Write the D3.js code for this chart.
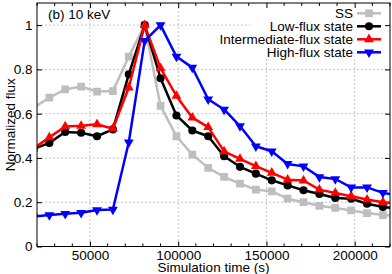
<!DOCTYPE html>
<html>
<head>
    <meta charset="utf-8">
    <title>10 keV normalized flux</title>
    <script src="https://cdn.jsdelivr.net/npm/d3@7"></script>
    <style>
        body { margin: 0; background: #fff; }
        svg { display: block; font-family: "Liberation Sans", Arial, sans-serif; }
        .grid line { stroke: #c4c4c4; stroke-width: 1; stroke-dasharray: 2 2; }
        .axis path { display: none; }
        .axis line { stroke: #000; }
        .axis text { font-size: 13.5px; fill: #000; }
        .series path.line { fill: none; stroke-width: 2.5; stroke-linejoin: round; }
    </style>
</head>
<body>
<svg width="392" height="274"></svg>
<script>

    // simulation time (s); first and last points lie just outside the plotted range
    var times = [18000, 27000, 36000, 45000, 54000, 63000, 72000, 81000, 90000, 99000, 108000, 117000,
                 126000, 135000, 144000, 153000, 162000, 171000, 180000, 189000, 198000, 207000, 216000, 225000];

    var ssFlux = [0.627, 0.672, 0.710, 0.722, 0.700, 0.702, 0.858, 1.000, 0.635, 0.498, 0.415, 0.355,
                  0.314, 0.284, 0.257, 0.249, 0.216, 0.200, 0.184, 0.174, 0.163, 0.151, 0.142, 0.138];

    var lowFlux = [0.440, 0.468, 0.517, 0.514, 0.498, 0.529, 0.778, 1.000, 0.760, 0.592, 0.524, 0.498,
                   0.408, 0.360, 0.329, 0.299, 0.276, 0.254, 0.237, 0.219, 0.216, 0.193, 0.178, 0.172];

    var intermediateFlux = [0.442, 0.493, 0.542, 0.545, 0.552, 0.532, 0.718, 1.000, 0.806, 0.680, 0.582, 0.539,
                            0.430, 0.396, 0.363, 0.333, 0.302, 0.298, 0.257, 0.242, 0.227, 0.212, 0.200, 0.195];

    var highFlux = [0.135, 0.142, 0.148, 0.152, 0.165, 0.167, 0.471, 0.929, 1.000, 0.858, 0.808, 0.665,
                    0.619, 0.544, 0.453, 0.430, 0.373, 0.362, 0.314, 0.305, 0.267, 0.267, 0.242, 0.232];

    var seriesNames = ["SS", "Low-flux state", "Intermediate-flux state", "High-flux state"];

    var xTicks = [50000, 100000, 150000, 200000];
    var yTicks = [0, 0.2, 0.4, 0.6, 0.8, 1];

    var series = [
        { name: seriesNames[0], values: ssFlux, color: "#bebebe", symbol: d3.symbolSquare, size: 60, rotate: 0 },
        { name: seriesNames[1], values: lowFlux, color: "#000000", symbol: d3.symbolCircle, size: 52, rotate: 0 },
        { name: seriesNames[2], values: intermediateFlux, color: "#ff0000", symbol: d3.symbolTriangle, size: 42, rotate: 0 },
        { name: seriesNames[3], values: highFlux, color: "#0000ff", symbol: d3.symbolTriangle, size: 42, rotate: 180 }
    ];

    var svg = d3.select("svg");
    var margin = { top: 3, right: 2, bottom: 27.5, left: 37 };
    var width = +svg.attr("width") - margin.left - margin.right;
    var height = +svg.attr("height") - margin.top - margin.bottom;

    var x = d3.scaleLinear().domain([20000, 220000]).range([0, width]);
    var y = d3.scaleLinear().domain([0, 1.1]).range([height, 0]);

    var g = svg.append("g").attr("transform", "translate(" + margin.left + "," + margin.top + ")");

    svg.append("defs").append("clipPath").attr("id", "plotClip")
        .append("rect").attr("width", width).attr("height", height);

    // grid
    var grid = g.append("g").attr("class", "grid");
    grid.selectAll("line.vx").data(xTicks).enter().append("line")
        .attr("x1", function (d) { return x(d); }).attr("x2", function (d) { return x(d); })
        .attr("y1", 0).attr("y2", height);
    grid.selectAll("line.hy").data(yTicks.slice(1)).enter().append("line")
        .attr("x1", 0).attr("x2", width)
        .attr("y1", function (d) { return y(d); }).attr("y2", function (d) { return y(d); });

    // opaque key box
    g.append("rect")
        .attr("x", 250 - margin.left).attr("y", 1)
        .attr("width", width - (250 - margin.left) - 1).attr("height", 55)
        .attr("fill", "#fff");

    // minor ticks
    var xMinor = d3.range(20000, 220001, 10000).filter(function (v) { return v % 50000 !== 0; });
    var minor = g.append("g").attr("class", "axis");
    minor.selectAll("line.mb").data(xMinor).enter().append("line")
        .attr("x1", function (d) { return x(d); }).attr("x2", function (d) { return x(d); })
        .attr("y1", height).attr("y2", height - 3);
    minor.selectAll("line.mt").data(xMinor).enter().append("line")
        .attr("x1", function (d) { return x(d); }).attr("x2", function (d) { return x(d); })
        .attr("y1", 0).attr("y2", 3);

    // axes
    g.append("g").attr("class", "axis").attr("transform", "translate(0," + height + ")")
        .call(d3.axisBottom(x).tickValues(xTicks).tickSize(-5).tickPadding(4).tickFormat(d3.format("d")));
    g.append("g").attr("class", "axis")
        .call(d3.axisTop(x).tickValues(xTicks).tickSize(-5).tickFormat(""));
    g.append("g").attr("class", "axis")
        .call(d3.axisLeft(y).tickValues(yTicks).tickSize(-5).tickPadding(4.5).tickFormat(d3.format("~g")));
    g.append("g").attr("class", "axis").attr("transform", "translate(" + width + ",0)")
        .call(d3.axisRight(y).tickValues(yTicks).tickSize(-5).tickFormat(""));

    // data
    var line = d3.line()
        .x(function (d, i) { return x(times[i]); })
        .y(function (d) { return y(d); });

    var plot = g.append("g").attr("clip-path", "url(#plotClip)");
    series.forEach(function (s) {
        var sg = plot.append("g").attr("class", "series");
        sg.append("path").attr("class", "line")
            .attr("d", line(s.values))
            .attr("stroke", s.color);
        sg.selectAll("path.pt").data(s.values).enter().append("path")
            .attr("class", "pt")
            .attr("d", d3.symbol().type(s.symbol).size(s.size))
            .attr("fill", s.color)
            .attr("transform", function (d, i) {
                return "translate(" + x(times[i]) + "," + y(d) + ") rotate(" + s.rotate + ")";
            });
    });

    // frame
    g.append("rect").attr("width", width).attr("height", height)
        .attr("fill", "none").attr("stroke", "#000").attr("stroke-width", 1);

    // key
    var key = g.append("g");
    series.forEach(function (s, i) {
        var cy = 10.3 + i * 13;
        key.append("text")
            .attr("x", 353 - margin.left).attr("y", cy + 4.8)
            .attr("text-anchor", "end").attr("font-size", "13.5px")
            .text(s.name);
        key.append("line")
            .attr("x1", 357 - margin.left).attr("x2", 381 - margin.left)
            .attr("y1", cy).attr("y2", cy)
            .attr("stroke", s.color).attr("stroke-width", 2.5);
        key.append("path")
            .attr("d", d3.symbol().type(s.symbol).size(s.size))
            .attr("fill", s.color)
            .attr("transform", "translate(" + (369 - margin.left) + "," + cy + ") rotate(" + s.rotate + ")");
    });

    // labels
    g.append("text")
        .attr("x", 48 - margin.left).attr("y", 19 - margin.top)
        .attr("font-size", "13.5px")
        .text("(b) 10 keV");

    svg.append("text")
        .attr("x", margin.left + width / 2).attr("y", 272)
        .attr("text-anchor", "middle").attr("font-size", "13.5px")
        .text("Simulation time (s)");

    svg.append("text")
        .attr("transform", "translate(14.5," + (margin.top + height / 2) + ") rotate(-90)")
        .attr("text-anchor", "middle").attr("font-size", "13.5px")
        .text("Normalized flux");

</script>
</body>
</html>
